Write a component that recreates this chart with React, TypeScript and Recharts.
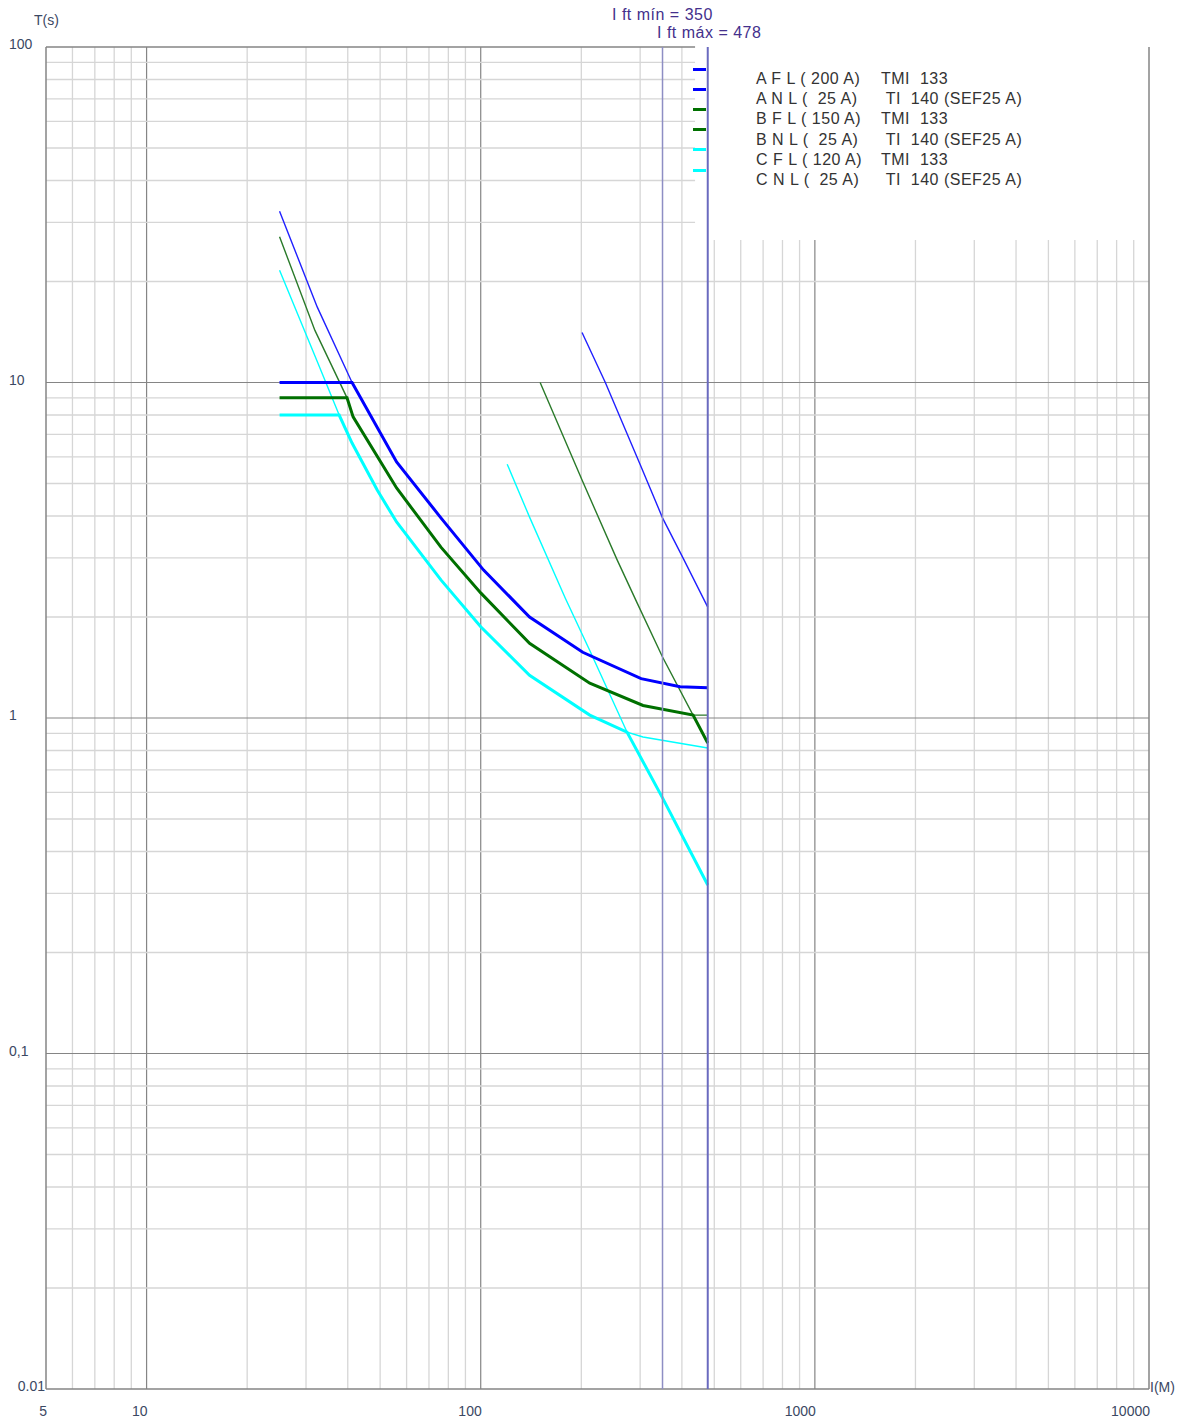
import React from "react";
import { LineChart, Line, XAxis, YAxis, ReferenceLine } from "recharts";

type Pt = { i: number; t: number };

// Phase A (blue): FL curve, NL curve, resulting trip curve
const aFl: Pt[] = [
  { i: 25, t: 32.4 }, { i: 32.4, t: 16.8 }, { i: 41.2, t: 10 }, { i: 56, t: 5.8 },
  { i: 76, t: 3.95 }, { i: 102, t: 2.76 }, { i: 140, t: 2.0 }, { i: 202, t: 1.57 },
  { i: 302, t: 1.31 }, { i: 395, t: 1.24 }, { i: 478, t: 1.23 },
];
const aNl: Pt[] = [
  { i: 201, t: 14.1 }, { i: 236, t: 10 }, { i: 300, t: 5.7 }, { i: 350, t: 3.95 },
  { i: 403, t: 3.0 }, { i: 478, t: 2.14 },
];
const aTrip: Pt[] = [
  { i: 25, t: 10 }, { i: 41.2, t: 10 }, { i: 56, t: 5.8 }, { i: 76, t: 3.95 },
  { i: 102, t: 2.76 }, { i: 140, t: 2.0 }, { i: 202, t: 1.57 }, { i: 302, t: 1.31 },
  { i: 395, t: 1.24 }, { i: 478, t: 1.23 },
];

// Phase B (green)
const bFl: Pt[] = [
  { i: 25, t: 27.2 }, { i: 31.9, t: 14.3 }, { i: 39.8, t: 9 }, { i: 41.5, t: 7.9 },
  { i: 56, t: 4.85 }, { i: 76, t: 3.23 }, { i: 100, t: 2.36 }, { i: 140, t: 1.67 },
  { i: 212, t: 1.27 }, { i: 306, t: 1.09 }, { i: 432, t: 1.02 }, { i: 478, t: 1.02 },
];
const bNl: Pt[] = [
  { i: 150.6, t: 10 }, { i: 201, t: 5.12 }, { i: 256, t: 2.96 }, { i: 294, t: 2.2 },
  { i: 350, t: 1.52 }, { i: 478, t: 0.842 },
];
const bTrip: Pt[] = [
  { i: 25, t: 9 }, { i: 39.8, t: 9 }, { i: 41.5, t: 7.9 }, { i: 56, t: 4.85 },
  { i: 76, t: 3.23 }, { i: 100, t: 2.36 }, { i: 140, t: 1.67 }, { i: 212, t: 1.27 },
  { i: 306, t: 1.09 }, { i: 432, t: 1.02 }, { i: 478, t: 0.842 },
];

// Phase C (cyan)
const cFl: Pt[] = [
  { i: 25, t: 21.6 }, { i: 32.6, t: 11.4 }, { i: 37.7, t: 8 }, { i: 41.2, t: 6.6 },
  { i: 49, t: 4.78 }, { i: 56, t: 3.84 }, { i: 76, t: 2.58 }, { i: 100, t: 1.87 },
  { i: 140, t: 1.34 }, { i: 212, t: 1.02 }, { i: 274, t: 0.908 }, { i: 306, t: 0.878 },
  { i: 478, t: 0.814 },
];
const cNl: Pt[] = [
  { i: 120, t: 5.71 }, { i: 140, t: 3.97 }, { i: 179, t: 2.28 }, { i: 212, t: 1.59 },
  { i: 274, t: 0.908 }, { i: 350, t: 0.578 }, { i: 478, t: 0.318 },
];
const cTrip: Pt[] = [
  { i: 25, t: 8 }, { i: 37.7, t: 8 }, { i: 41.2, t: 6.6 }, { i: 49, t: 4.78 },
  { i: 56, t: 3.84 }, { i: 76, t: 2.58 }, { i: 100, t: 1.87 }, { i: 140, t: 1.34 },
  { i: 212, t: 1.02 }, { i: 274, t: 0.908 }, { i: 350, t: 0.578 }, { i: 478, t: 0.318 },
];

const iftMin = 350;
const iftMax = 478;

const xTicks = [5, 10, 100, 1000, 10000];
const yTicks = [0.01, 0.1, 1, 10, 100];
const yTickLabels: Record<number, string> = { 0.01: "0.01", 0.1: "0,1", 1: "1", 10: "10", 100: "100" };

const xMinor = [6, 7, 8, 9, 20, 30, 40, 50, 60, 70, 80, 90, 200, 300, 400, 500, 600, 700, 800, 900,
  2000, 3000, 4000, 5000, 6000, 7000, 8000, 9000];
const xMajor = [10, 100, 1000];
const yMinor = [0.02, 0.03, 0.04, 0.05, 0.06, 0.07, 0.08, 0.09, 0.2, 0.3, 0.4, 0.5, 0.6, 0.7, 0.8, 0.9,
  2, 3, 4, 5, 6, 7, 8, 9, 20, 30, 40, 50, 60, 70, 80, 90];
const yMajor = [0.1, 1, 10];

const legendRows = [
  { code: "A F L ( 200 A)", curve: "TMI  133", color: "#0000ff" },
  { code: "A N L (  25 A)", curve: " TI  140 (SEF25 A)", color: "#0000ff" },
  { code: "B F L ( 150 A)", curve: "TMI  133", color: "#007000" },
  { code: "B N L (  25 A)", curve: " TI  140 (SEF25 A)", color: "#007000" },
  { code: "C F L ( 120 A)", curve: "TMI  133", color: "#00ffff" },
  { code: "C N L (  25 A)", curve: " TI  140 (SEF25 A)", color: "#00ffff" },
];

// legend box hides the grid in the upper right corner
const boxX = 438;
const boxT = 26.6;

const MINOR = "#d6d6d6";
const MAJOR = "#858585";
const FONT = "'Liberation Sans', Arial, sans-serif";
const TICK_COLOR = "#3b4863";

const XTick = (props: any) => {
  const { x, payload } = props;
  return (
    <text x={x + 1} y={1408} textAnchor="end" fontSize={14} fill={TICK_COLOR} fontFamily={FONT}>
      {payload.value}
    </text>
  );
};

const YTick = (props: any) => {
  const { y, payload } = props;
  const v = payload.value;
  const isMin = v === yTicks[0];
  return (
    <text x={isMin ? 37 : 1} y={y + 2} textAnchor={isMin ? "end" : "start"} fontSize={14}
      fill={TICK_COLOR} fontFamily={FONT}>
      {yTickLabels[v]}
    </text>
  );
};

const seg = (a: [number, number], b: [number, number]) => [
  { x: a[0], y: a[1] },
  { x: b[0], y: b[1] },
];

const textStyle = (left: number, top: number, size: number, color: string): React.CSSProperties => ({
  position: "absolute",
  left,
  top,
  fontSize: size,
  color,
  lineHeight: "18px",
  whiteSpace: "pre",
  letterSpacing: 0.5,
});

const App = () => {
  const vLines = [
    ...xMinor.map((v) => ({ v, c: MINOR, w: 1.3 })),
    ...xMajor.map((v) => ({ v, c: MAJOR, w: 1.2 })),
  ];
  const hLines = [
    ...yMinor.map((v) => ({ v, c: MINOR, w: 1.3 })),
    ...yMajor.map((v) => ({ v, c: MAJOR, w: 1.2 })),
  ];

  return (
    <div style={{ position: "relative", width: 1176, height: 1415, fontFamily: FONT }}>
      <LineChart width={1176} height={1415} margin={{ top: 39, right: 35, bottom: 0, left: 0 }}>
        <XAxis dataKey="i" type="number" scale="log" domain={[5, 10000]} ticks={xTicks}
          allowDataOverflow axisLine={false} tickLine={false} height={34} tick={<XTick />}
          interval={0} />
        <YAxis dataKey="t" type="number" scale="log" domain={[0.01, 100]} ticks={yTicks}
          allowDataOverflow axisLine={false} tickLine={false} width={38} tick={<YTick />}
          interval={0} />

        {vLines.map((g) =>
          g.v > boxX ? (
            <ReferenceLine key={"vx" + g.v} segment={seg([g.v, 0.01], [g.v, boxT])}
              stroke={g.c} strokeWidth={g.w} />
          ) : (
            <ReferenceLine key={"vx" + g.v} x={g.v} stroke={g.c} strokeWidth={g.w} />
          )
        )}
        {hLines.map((g) =>
          g.v > boxT ? (
            <ReferenceLine key={"hy" + g.v} segment={seg([5, g.v], [boxX, g.v])}
              stroke={g.c} strokeWidth={g.w} />
          ) : (
            <ReferenceLine key={"hy" + g.v} y={g.v} stroke={g.c} strokeWidth={g.w} />
          )
        )}
        {/* plot frame */}
        <ReferenceLine x={5} stroke={MAJOR} strokeWidth={1.5} />
        <ReferenceLine y={0.01} stroke={MAJOR} strokeWidth={1.5} />
        <ReferenceLine x={10000} stroke={MAJOR} strokeWidth={1.5} />
        <ReferenceLine segment={seg([5, 100], [boxX, 100])} stroke={MAJOR} strokeWidth={1.5} />

        {/* individual curves (thin) */}
        <Line data={aFl} dataKey="t" stroke="#2020ff" strokeWidth={1.4} dot={false} isAnimationActive={false} />
        <Line data={bFl} dataKey="t" stroke="#2a7a2a" strokeWidth={1.4} dot={false} isAnimationActive={false} />
        <Line data={cFl} dataKey="t" stroke="#00ffff" strokeWidth={1.4} dot={false} isAnimationActive={false} />
        <Line data={aNl} dataKey="t" stroke="#2020ff" strokeWidth={1.4} dot={false} isAnimationActive={false} />
        <Line data={bNl} dataKey="t" stroke="#2a7a2a" strokeWidth={1.4} dot={false} isAnimationActive={false} />
        <Line data={cNl} dataKey="t" stroke="#00ffff" strokeWidth={1.4} dot={false} isAnimationActive={false} />

        {/* resulting trip curves (thick) */}
        <Line data={aTrip} dataKey="t" stroke="#0000ff" strokeWidth={3} dot={false} isAnimationActive={false} />
        <Line data={bTrip} dataKey="t" stroke="#007000" strokeWidth={3} dot={false} isAnimationActive={false} />
        <Line data={cTrip} dataKey="t" stroke="#00ffff" strokeWidth={3} dot={false} isAnimationActive={false} />

        {/* fault current limits */}
        <ReferenceLine x={iftMin} stroke="#8e8ec4" strokeWidth={1.5} />
        <ReferenceLine x={iftMax} stroke="#6a6abf" strokeWidth={2} />
      </LineChart>

      <div style={{ position: "absolute", left: 26, top: 3, fontSize: 14, color: TICK_COLOR, lineHeight: "18px" }}>
        T(s)
      </div>
      <div style={{ position: "absolute", left: 1142, top: 1370, fontSize: 14, color: TICK_COLOR, lineHeight: "18px" }}>
        I(M)
      </div>

      <div style={textStyle(604, -2, 16, "#44308c")}>{`I ft mín = ${iftMin}`}</div>
      <div style={textStyle(649, 16, 16, "#44308c")}>{`I ft máx = ${iftMax}`}</div>

      {legendRows.map((r, k) => (
        <React.Fragment key={r.code}>
          <div style={{ position: "absolute", left: 685, top: 59.5 + k * 20.2, width: 13, height: 3, background: r.color }} />
          <div style={textStyle(748, 62 + k * 20.2, 16, "#333")}>{r.code}</div>
          <div style={textStyle(873, 62 + k * 20.2, 16, "#333")}>{r.curve}</div>
        </React.Fragment>
      ))}
    </div>
  );
};

export default App;
